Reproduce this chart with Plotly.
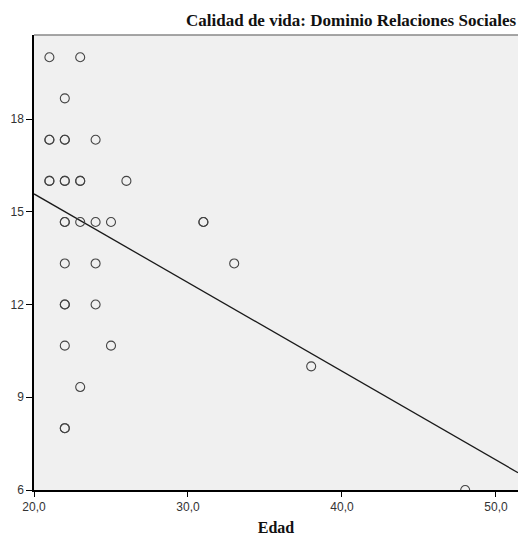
import plotly.graph_objects as go

# Data (Edad vs. Calidad de vida: Dominio Relaciones Sociales)
edad = [21, 23, 22, 21, 21, 22, 22, 24, 21, 21, 22, 22, 23, 23, 26,
        22, 22, 23, 24, 25, 31, 31, 22, 24, 33, 22, 22, 24, 22, 25,
        23, 22, 22, 38, 48]
social = [20, 20, 18.67, 17.33, 17.33, 17.33, 17.33, 17.33, 16, 16, 16, 16, 16, 16, 16,
          14.67, 14.67, 14.67, 14.67, 14.67, 14.67, 14.67, 13.33, 13.33, 13.33, 12, 12, 12, 10.67, 10.67,
          9.33, 8, 8, 10, 6]

# Fit line
fit_intercept = 21.32
fit_slope = -0.287
x_range = [20, 51.43]
y_range = [6, 20.72]

fit_x = x_range
fit_y = [fit_intercept + fit_slope * v for v in fit_x]

x_ticks = [20, 30, 40, 50]
y_ticks = [6, 9, 12, 15, 18]

fig = go.Figure()
fig.add_trace(go.Scatter(
    x=fit_x, y=fit_y, mode="lines",
    line=dict(color="#1a1a1a", width=1.3),
    hoverinfo="skip", showlegend=False))
fig.add_trace(go.Scatter(
    x=edad, y=social, mode="markers",
    marker=dict(symbol="circle-open", size=9, color="#444444", line=dict(width=1.1)),
    showlegend=False))

tickfont = dict(family="Liberation Sans, Arial, sans-serif", size=12, color="#333333")
serif = "Liberation Serif, Times New Roman, serif"
fig.update_layout(
    width=518, height=536,
    margin=dict(l=34, r=0, t=35, b=46),
    paper_bgcolor="white", plot_bgcolor="#F0F0F0",
    separators=",.",
    xaxis=dict(range=x_range, tickvals=x_ticks, tickformat=".1f",
               showgrid=False, zeroline=False, showline=True, linecolor="#000000", linewidth=1.5,
               ticks="outside", ticklen=5, tickcolor="#000000", tickwidth=1.3, tickfont=tickfont,
               title=dict(text="<b>Edad</b>", font=dict(family=serif, size=16, color="#111111"),
                          standoff=10)),
    yaxis=dict(range=y_range, tickvals=y_ticks,
               showgrid=False, zeroline=False, showline=True, linecolor="#000000", linewidth=1.5,
               ticks="outside", ticklen=6, tickcolor="#000000", tickwidth=1.3, tickfont=tickfont,
               ticklabelstandoff=0),
    shapes=[dict(type="line", xref="paper", yref="paper", x0=0, x1=1, y0=1, y1=1,
                 line=dict(color="#888888", width=1.5))],
    annotations=[dict(text="<b>Calidad de vida: Dominio Relaciones Sociales</b>",
                      xref="paper", yref="paper", x=1, y=1, xanchor="right", yanchor="bottom",
                      yshift=3, showarrow=False,
                      font=dict(family=serif, size=17, color="#111111"))],
)

fig.write_html("out.html")
